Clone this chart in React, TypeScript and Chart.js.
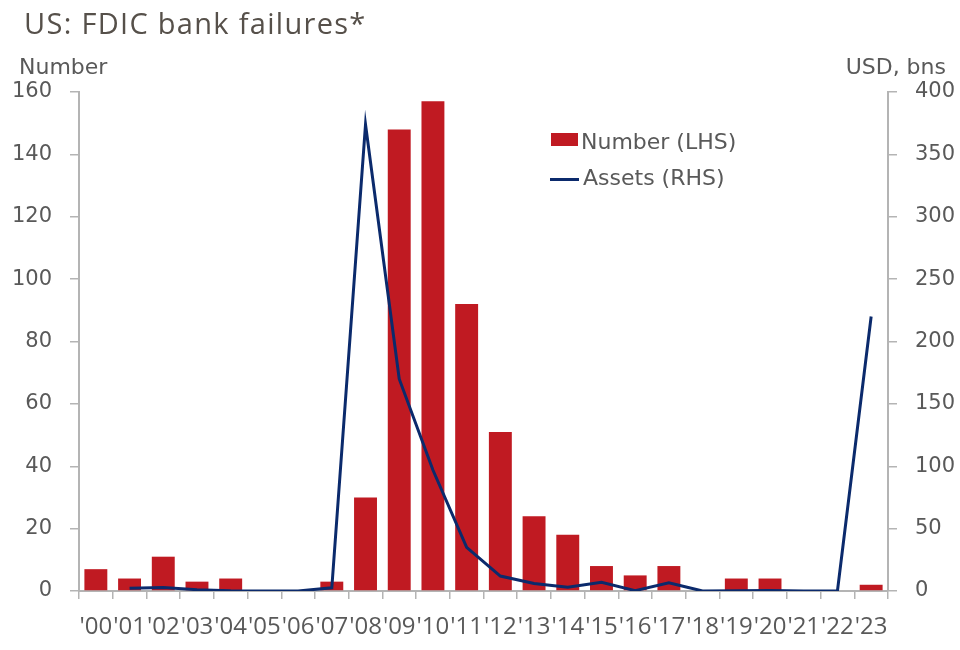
import React, { useEffect, useRef } from "react";
import { Chart, registerables } from "chart.js";

Chart.register(...registerables);

const years = ["'00", "'01", "'02", "'03", "'04", "'05", "'06", "'07", "'08", "'09", "'10", "'11", "'12", "'13", "'14", "'15", "'16", "'17", "'18", "'19", "'20", "'21", "'22", "'23"];
const failuresNumber = [7, 4, 11, 3, 4, 0, 0, 3, 30, 148, 157, 92, 51, 24, 18, 8, 5, 8, 0, 4, 4, 0, 0, 2];
const assetsBns: (number | null)[] = [null, 2.3, 2.9, 1.0, 0.2, 0, 0, 2.6, 374, 170, 97, 35, 12, 6, 3, 7, 0.3, 6.5, 0, 0.2, 0.5, 0, 0, 220];
const leftAxis = { min: 0, max: 160, step: 20 };
const rightAxis = { min: 0, max: 400, step: 50 };

const RED = "#C01A22";
const NAVY = "#0B2A6C";
const TEXT = "#595959";
const AXIS = "#b4b4b4";
const TICK_FONT = "'DejaVu Sans', sans-serif";

export default function App() {
  const canvasRef = useRef<HTMLCanvasElement | null>(null);

  useEffect(() => {
    if (!canvasRef.current) return;
    const chart = new Chart(canvasRef.current, {
      data: {
        labels: years,
        datasets: [
          {
            type: "line",
            label: "Assets (RHS)",
            data: assetsBns,
            yAxisID: "y1",
            borderColor: NAVY,
            backgroundColor: NAVY,
            borderWidth: 3,
            pointRadius: 0,
            tension: 0,
            order: 0,
          },
          {
            type: "bar",
            label: "Number (LHS)",
            data: failuresNumber,
            yAxisID: "y",
            backgroundColor: RED,
            barPercentage: 0.68,
            categoryPercentage: 1.0,
            order: 1,
          },
        ],
      } as any,
      options: {
        animation: false,
        responsive: false,
        maintainAspectRatio: false,
        layout: { padding: { top: 92, left: 0, right: 0, bottom: 0 } },
        plugins: { legend: { display: false }, tooltip: { enabled: false } },
        scales: {
          x: {
            grid: { offset: true, drawOnChartArea: false, drawTicks: true, tickLength: 8, color: AXIS, lineWidth: 1.5 },
            border: { display: true, color: AXIS, width: 2 },
            ticks: {
              autoSkip: false,
              maxRotation: 0,
              minRotation: 0,
              color: TEXT,
              padding: 14,
              font: { family: "'Open Sans', sans-serif", size: 24 },
            },
            afterFit: (s: any) => {
              s.height = 59;
            },
          },
          y: {
            position: "left",
            min: leftAxis.min,
            max: leftAxis.max,
            grid: { drawOnChartArea: false, drawTicks: true, tickLength: 9, color: AXIS, lineWidth: 1.5 },
            border: { display: true, color: AXIS, width: 2 },
            ticks: {
              stepSize: leftAxis.step,
              color: TEXT,
              padding: 18,
              font: { family: TICK_FONT, size: 21 },
            },
            afterFit: (s: any) => {
              s.width = 79;
            },
          },
          y1: {
            position: "right",
            min: rightAxis.min,
            max: rightAxis.max,
            grid: { drawOnChartArea: false, drawTicks: true, tickLength: 9, color: AXIS, lineWidth: 1.5 },
            border: { display: true, color: AXIS, width: 2 },
            ticks: {
              stepSize: rightAxis.step,
              color: TEXT,
              padding: 18,
              font: { family: TICK_FONT, size: 21 },
            },
            afterFit: (s: any) => {
              s.width = 72;
            },
          },
        },
      } as any,
    });
    return () => chart.destroy();
  }, []);

  const txt = (extra: React.CSSProperties): React.CSSProperties => ({
    position: "absolute",
    lineHeight: 1,
    whiteSpace: "nowrap",
    color: TEXT,
    fontFamily: TICK_FONT,
    ...extra,
  });

  return (
    <div style={{ position: "fixed", left: 0, top: 0, width: 960, height: 650, background: "#fff", overflow: "hidden" }}>
      <canvas ref={canvasRef} width={960} height={650} style={{ position: "absolute", left: 0, top: 0, width: 960, height: 650 }} />
      <div style={txt({ left: 24, top: 8, fontSize: 29, letterSpacing: "1.3px", fontFamily: "'Open Sans', sans-serif", color: "#56504a" })}>US: FDIC bank failures*</div>
      <div style={txt({ left: 19, top: 56, fontSize: 22 })}>Number</div>
      <div style={txt({ right: 14, top: 56, fontSize: 22, textAlign: "right" })}>USD, bns</div>
      <div style={{ position: "absolute", left: 551, top: 133, width: 27, height: 13, background: RED }} />
      <div style={txt({ left: 581, top: 131, fontSize: 22 })}>Number (LHS)</div>
      <div style={{ position: "absolute", left: 550, top: 178, width: 29, height: 3, background: NAVY }} />
      <div style={txt({ left: 583, top: 167, fontSize: 22 })}>Assets (RHS)</div>
    </div>
  );
}
